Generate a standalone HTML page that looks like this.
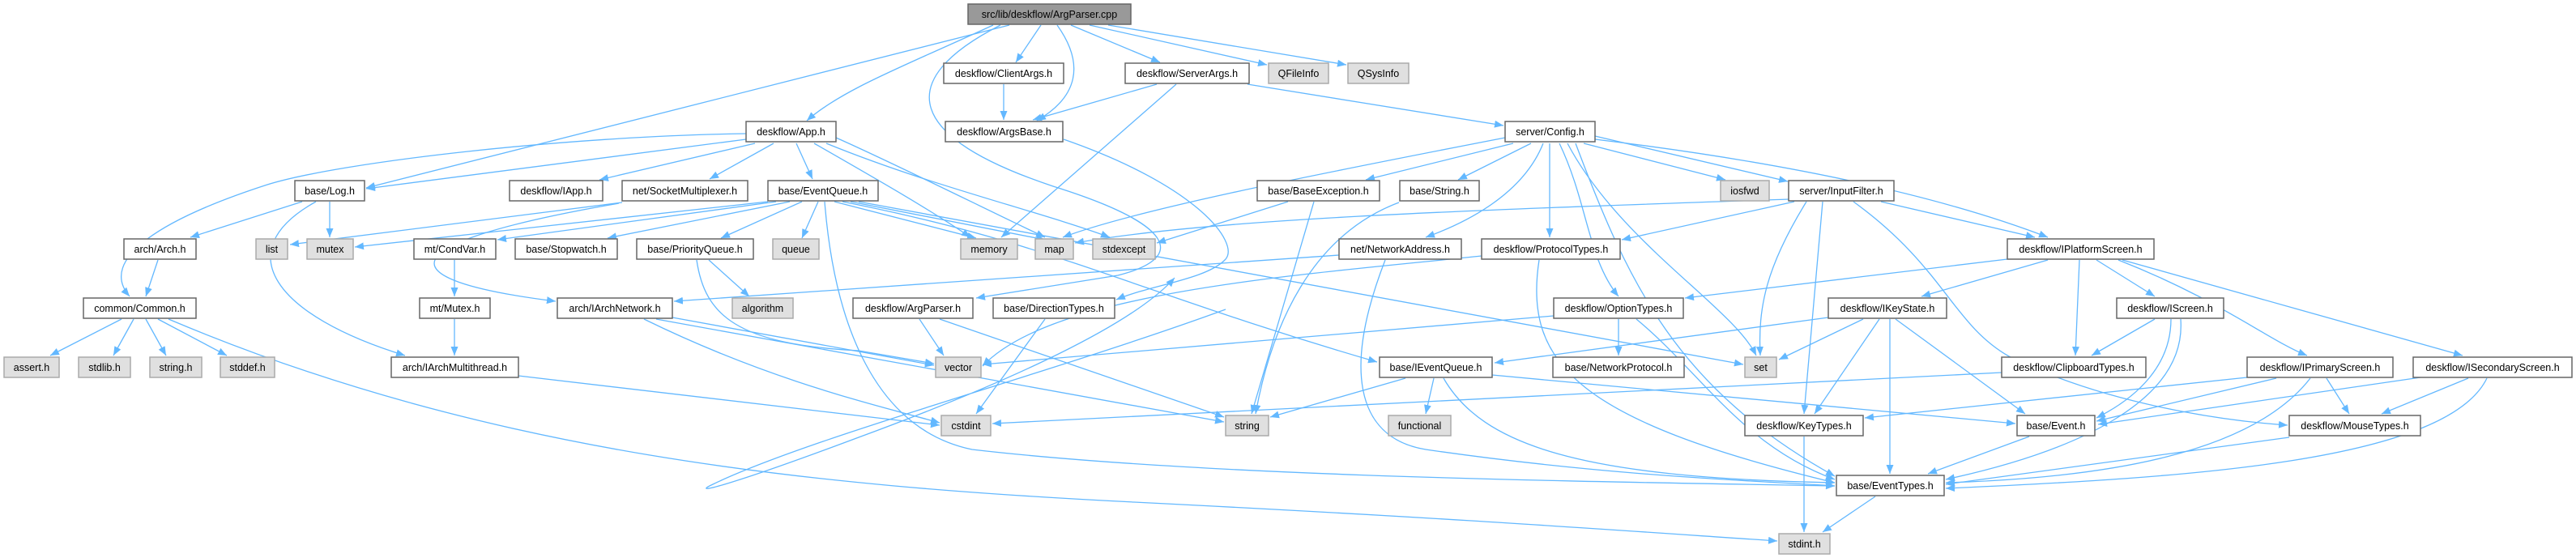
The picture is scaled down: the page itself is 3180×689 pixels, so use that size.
<!DOCTYPE html>
<html><head><meta charset="utf-8"><style>
html,body{margin:0;padding:0;background:#fff;}
svg{display:block}
text{font-family:"Liberation Sans",Arial,sans-serif;font-size:12.5px;fill:#000;text-anchor:middle}
.e{fill:none;stroke:#63b8ff;stroke-width:1.3;marker-end:url(#a)}
.n{fill:#fff;stroke:#666;stroke-width:1.5}
.g{fill:#e0e0e0;stroke:#aaa;stroke-width:1.5}
.r{fill:#999;stroke:#666;stroke-width:1.5}
</style></head><body>
<svg width="3180" height="689" viewBox="0 0 3180 689" xmlns="http://www.w3.org/2000/svg">
<defs><marker id="a" markerUnits="userSpaceOnUse" markerWidth="12" markerHeight="10" refX="11" refY="4.5" orient="auto"><path d="M0,0 L11,4.5 L0,9 z" fill="#63b8ff"/></marker></defs>
<g>
<!-- root -->
<path class="e" d="M1246,31 L452,232"/>
<path class="e" d="M1226,31 C1120,80 1040,110 996,149"/>
<path class="e" d="M1285,31 L1254,77"/>
<path class="e" d="M1305,31 C1340,80 1330,120 1280,149"/>
<path class="e" d="M1322,31 L1432,77"/>
<path class="e" d="M1345,31 L1564,80"/>
<path class="e" d="M1368,31 L1662,80"/>
<path class="e" d="M1235,31 C1100,100 1120,170 1300,230 C1460,280 1460,320 1380,340 L1205,368"/>
<!-- App.h -->
<path class="e" d="M921,172 L452,233"/>
<path class="e" d="M921,165 C700,168 420,200 330,228 C200,270 120,320 160,366"/>
<path class="e" d="M932,177 L740,222"/>
<path class="e" d="M955,177 L876,221"/>
<path class="e" d="M983,177 L1003,221"/>
<path class="e" d="M1005,177 C1080,220 1150,260 1198,293"/>
<path class="e" d="M1020,177 C1150,230 1280,260 1370,293"/>
<path class="e" d="M1032,170 C1100,200 1200,250 1290,293"/>
<!-- Log.h -->
<path class="e" d="M373,249 L235,293"/>
<path class="e" d="M407,249 L407,293"/>
<path class="e" d="M390,249 C280,310 340,390 500,439"/>
<path class="e" d="M195,321 L180,366"/>
<!-- Common.h -->
<path class="e" d="M150,394 L62,439"/>
<path class="e" d="M165,394 L140,439"/>
<path class="e" d="M180,394 L205,439"/>
<path class="e" d="M195,394 L280,439"/>
<path class="e" d="M208,394 C600,560 1000,600 1400,620 C1800,640 2000,655 2194,668"/>
<!-- SocketMultiplexer -->
<path class="e" d="M768,250 L358,302"/>
<path class="e" d="M764,251 C480,300 470,345 686,372"/>
<!-- EventQueue -->
<path class="e" d="M948,249 L438,305"/>
<path class="e" d="M958,249 L614,296"/>
<path class="e" d="M975,249 L750,294"/>
<path class="e" d="M990,249 L890,294"/>
<path class="e" d="M1010,249 L990,294"/>
<path class="e" d="M1030,249 L1205,294"/>
<path class="e" d="M1050,249 L1290,296"/>
<path class="e" d="M1060,249 L2152,450"/>
<path class="e" d="M1040,249 C1300,300 1400,360 1700,447"/>
<path class="e" d="M1018,249 C1030,400 1080,530 1200,555 C1500,590 2000,595 2265,600"/>
<!-- CondVar / Mutex / IArchMT -->
<path class="e" d="M561,321 L561,366"/>
<path class="e" d="M561,394 L561,439"/>
<path class="e" d="M640,464 L1160,525"/>
<!-- PriorityQueue -->
<path class="e" d="M875,321 L925,366"/>
<path class="e" d="M860,321 C870,390 910,425 1060,433 L1153,449"/>
<!-- IArchNetwork -->
<path class="e" d="M830,392 L1153,451"/>
<path class="e" d="M810,394 L1511,521"/>
<path class="e" d="M795,394 C950,470 1080,500 1160,522"/>
<!-- loop -->
<path class="e" d="M1513,382 C1300,460 1000,540 880,598 C850,612 900,600 1060,540 C1250,470 1400,400 1450,343"/>
<!-- Args -->
<path class="e" d="M1239,104 L1239,148"/>
<path class="e" d="M1428,104 L1275,148"/>
<path class="e" d="M1452,104 L1236,293"/>
<path class="e" d="M1540,104 L1856,155"/>
<path class="e" d="M1313,172 C1480,230 1530,300 1513,320 C1490,345 1420,352 1378,370"/>
<!-- Config -->
<path class="e" d="M1858,170 C1600,220 1400,260 1312,293"/>
<path class="e" d="M1868,177 L1686,222"/>
<path class="e" d="M1890,177 L1800,222"/>
<path class="e" d="M1905,177 C1880,240 1810,275 1760,293"/>
<path class="e" d="M1913,177 L1913,293"/>
<path class="e" d="M1925,177 C1960,250 1960,320 1998,366"/>
<path class="e" d="M1935,177 C2000,300 2140,380 2168,439"/>
<path class="e" d="M1955,177 L2130,222"/>
<path class="e" d="M1969,168 L2207,224"/>
<path class="e" d="M1969,172 C2200,200 2390,240 2528,293"/>
<path class="e" d="M1945,177 C2010,350 2070,480 2265,588"/>
<!-- BaseException / String -->
<path class="e" d="M1590,249 L1428,300"/>
<path class="e" d="M1622,249 L1545,511"/>
<path class="e" d="M1727,250 C1620,290 1570,400 1550,511"/>
<!-- NetworkAddress / ProtocolTypes -->
<path class="e" d="M1653,315 L832,372"/>
<path class="e" d="M1710,321 C1660,450 1670,540 1760,555 C2000,590 2200,595 2265,600"/>
<path class="e" d="M1900,321 C1880,450 1950,520 2265,596"/>
<path class="e" d="M1829,316 C1600,340 1300,360 1213,452"/>
<!-- InputFilter -->
<path class="e" d="M2208,246 C1800,260 1500,270 1327,300"/>
<path class="e" d="M2215,249 L2002,296"/>
<path class="e" d="M2230,249 C2180,330 2170,380 2173,439"/>
<path class="e" d="M2250,249 L2227,511"/>
<path class="e" d="M2288,249 C2400,330 2410,400 2480,440 C2600,500 2750,520 2824,525"/>
<path class="e" d="M2322,249 L2512,293"/>
<!-- IPlatformScreen -->
<path class="e" d="M2478,320 L2080,368"/>
<path class="e" d="M2528,321 L2372,366"/>
<path class="e" d="M2567,321 L2562,439"/>
<path class="e" d="M2588,321 L2660,366"/>
<path class="e" d="M2615,321 C2740,370 2800,420 2848,439"/>
<path class="e" d="M2620,321 L3040,439"/>
<!-- OptionTypes -->
<path class="e" d="M1918,390 L1213,450"/>
<path class="e" d="M1998,394 L1998,439"/>
<path class="e" d="M2020,394 C2100,460 2150,550 2265,592"/>
<!-- IKeyState -->
<path class="e" d="M2257,392 L1845,448"/>
<path class="e" d="M2300,394 L2196,444"/>
<path class="e" d="M2320,394 L2240,511"/>
<path class="e" d="M2333,394 L2333,585"/>
<path class="e" d="M2340,394 L2500,511"/>
<!-- IScreen -->
<path class="e" d="M2660,394 L2582,439"/>
<path class="e" d="M2680,394 C2680,450 2640,490 2588,516"/>
<path class="e" d="M2692,394 C2700,500 2550,560 2402,592"/>
<!-- DirectionTypes / ArgParser.h -->
<path class="e" d="M1290,394 L1205,511"/>
<path class="e" d="M1135,394 L1165,439"/>
<path class="e" d="M1160,394 L1511,515"/>
<!-- IEventQueue -->
<path class="e" d="M1735,467 L1568,515"/>
<path class="e" d="M1770,467 L1760,511"/>
<path class="e" d="M1782,467 C1830,550 1950,590 2265,596"/>
<path class="e" d="M1842,463 L2488,523"/>
<!-- Clipboard / Primary / Secondary -->
<path class="e" d="M2471,460 L1225,523"/>
<path class="e" d="M2774,466 L2302,516"/>
<path class="e" d="M2810,467 L2588,520"/>
<path class="e" d="M2872,467 L2900,511"/>
<path class="e" d="M2852,467 C2780,560 2600,590 2402,596"/>
<path class="e" d="M2988,466 L2590,524"/>
<path class="e" d="M3047,467 L2940,511"/>
<path class="e" d="M3070,467 C3020,570 2700,590 2402,603"/>
<!-- bottom -->
<path class="e" d="M2227,539 L2227,657"/>
<path class="e" d="M2505,539 L2380,585"/>
<path class="e" d="M2826,540 L2402,598"/>
<path class="e" d="M2315,613 L2250,657"/>
</g>
<g>
<rect class="r" x="1195" y="5" width="201" height="25"/><text x="1295.5" y="22">src/lib/deskflow/ArgParser.cpp</text>
<rect class="n" x="1165" y="78" width="148" height="25"/><text x="1239" y="95">deskflow/ClientArgs.h</text>
<rect class="n" x="1389" y="78" width="153" height="25"/><text x="1465.5" y="95">deskflow/ServerArgs.h</text>
<rect class="g" x="1566" y="78" width="74" height="25"/><text x="1603" y="95">QFileInfo</text>
<rect class="g" x="1664" y="78" width="75" height="25"/><text x="1701.5" y="95">QSysInfo</text>

<rect class="n" x="921" y="150" width="111" height="25"/><text x="976.5" y="167">deskflow/App.h</text>
<rect class="n" x="1167" y="150" width="145" height="25"/><text x="1239.5" y="167">deskflow/ArgsBase.h</text>
<rect class="n" x="1858" y="150" width="111" height="25"/><text x="1913.5" y="167">server/Config.h</text>

<rect class="n" x="364" y="223" width="86" height="25"/><text x="407" y="240">base/Log.h</text>
<rect class="n" x="629" y="223" width="115" height="25"/><text x="686.5" y="240">deskflow/IApp.h</text>
<rect class="n" x="768" y="223" width="155" height="25"/><text x="845.5" y="240">net/SocketMultiplexer.h</text>
<rect class="n" x="948" y="223" width="136" height="25"/><text x="1016" y="240">base/EventQueue.h</text>
<rect class="n" x="1552" y="223" width="151" height="25"/><text x="1627.5" y="240">base/BaseException.h</text>
<rect class="n" x="1728" y="223" width="98" height="25"/><text x="1777" y="240">base/String.h</text>
<rect class="g" x="2124" y="223" width="60" height="25"/><text x="2154" y="240">iosfwd</text>
<rect class="n" x="2208" y="223" width="130" height="25"/><text x="2273" y="240">server/InputFilter.h</text>

<rect class="n" x="153" y="295" width="89" height="25"/><text x="197.5" y="312">arch/Arch.h</text>
<rect class="g" x="316" y="295" width="39" height="25"/><text x="335.5" y="312">list</text>
<rect class="g" x="379" y="295" width="57" height="25"/><text x="407.5" y="312">mutex</text>
<rect class="n" x="511" y="295" width="101" height="25"/><text x="561.5" y="312">mt/CondVar.h</text>
<rect class="n" x="636" y="295" width="126" height="25"/><text x="699" y="312">base/Stopwatch.h</text>
<rect class="n" x="786" y="295" width="144" height="25"/><text x="858" y="312">base/PriorityQueue.h</text>
<rect class="g" x="954" y="295" width="57" height="25"/><text x="982.5" y="312">queue</text>
<rect class="g" x="1186" y="295" width="70" height="25"/><text x="1221" y="312">memory</text>
<rect class="g" x="1278" y="295" width="47" height="25"/><text x="1301.5" y="312">map</text>
<rect class="g" x="1349" y="295" width="77" height="25"/><text x="1387.5" y="312">stdexcept</text>
<rect class="n" x="1653" y="295" width="151" height="25"/><text x="1728.5" y="312">net/NetworkAddress.h</text>
<rect class="n" x="1829" y="295" width="171" height="25"/><text x="1914.5" y="312">deskflow/ProtocolTypes.h</text>
<rect class="n" x="2478" y="295" width="181" height="25"/><text x="2568.5" y="312">deskflow/IPlatformScreen.h</text>

<rect class="n" x="103" y="368" width="139" height="25"/><text x="172.5" y="385">common/Common.h</text>
<rect class="n" x="518" y="368" width="87" height="25"/><text x="561.5" y="385">mt/Mutex.h</text>
<rect class="n" x="688" y="368" width="142" height="25"/><text x="759" y="385">arch/IArchNetwork.h</text>
<rect class="g" x="904" y="368" width="75" height="25"/><text x="941.5" y="385">algorithm</text>
<rect class="n" x="1053" y="368" width="148" height="25"/><text x="1127" y="385">deskflow/ArgParser.h</text>
<rect class="n" x="1226" y="368" width="150" height="25"/><text x="1301" y="385">base/DirectionTypes.h</text>
<rect class="n" x="1918" y="368" width="160" height="25"/><text x="1998" y="385">deskflow/OptionTypes.h</text>
<rect class="n" x="2257" y="368" width="146" height="25"/><text x="2330" y="385">deskflow/IKeyState.h</text>
<rect class="n" x="2613" y="368" width="132" height="25"/><text x="2679" y="385">deskflow/IScreen.h</text>

<rect class="g" x="5" y="441" width="68" height="25"/><text x="39" y="458">assert.h</text>
<rect class="g" x="97" y="441" width="64" height="25"/><text x="129" y="458">stdlib.h</text>
<rect class="g" x="185" y="441" width="64" height="25"/><text x="217" y="458">string.h</text>
<rect class="g" x="272" y="441" width="67" height="25"/><text x="305.5" y="458">stddef.h</text>
<rect class="n" x="483" y="441" width="157" height="25"/><text x="561.5" y="458">arch/IArchMultithread.h</text>
<rect class="g" x="1155" y="441" width="56" height="25"/><text x="1183" y="458">vector</text>
<rect class="n" x="1703" y="441" width="139" height="25"/><text x="1772.5" y="458">base/IEventQueue.h</text>
<rect class="n" x="1917" y="441" width="162" height="25"/><text x="1998" y="458">base/NetworkProtocol.h</text>
<rect class="g" x="2154" y="441" width="39" height="25"/><text x="2173.5" y="458">set</text>
<rect class="n" x="2471" y="441" width="178" height="25"/><text x="2560" y="458">deskflow/ClipboardTypes.h</text>
<rect class="n" x="2774" y="441" width="180" height="25"/><text x="2864" y="458">deskflow/IPrimaryScreen.h</text>
<rect class="n" x="2979" y="441" width="196" height="25"/><text x="3077" y="458">deskflow/ISecondaryScreen.h</text>

<rect class="g" x="1162" y="513" width="61" height="25"/><text x="1192.5" y="530">cstdint</text>
<rect class="g" x="1513" y="513" width="53" height="25"/><text x="1539.5" y="530">string</text>
<rect class="g" x="1714" y="513" width="77" height="25"/><text x="1752.5" y="530">functional</text>
<rect class="n" x="2154" y="513" width="146" height="25"/><text x="2227" y="530">deskflow/KeyTypes.h</text>
<rect class="n" x="2490" y="513" width="96" height="25"/><text x="2538" y="530">base/Event.h</text>
<rect class="n" x="2826" y="513" width="162" height="25"/><text x="2907" y="530">deskflow/MouseTypes.h</text>

<rect class="n" x="2267" y="587" width="133" height="25"/><text x="2333.5" y="604">base/EventTypes.h</text>
<rect class="g" x="2196" y="659" width="63" height="25"/><text x="2227.5" y="676">stdint.h</text>
</g>
</svg>
</body></html>
